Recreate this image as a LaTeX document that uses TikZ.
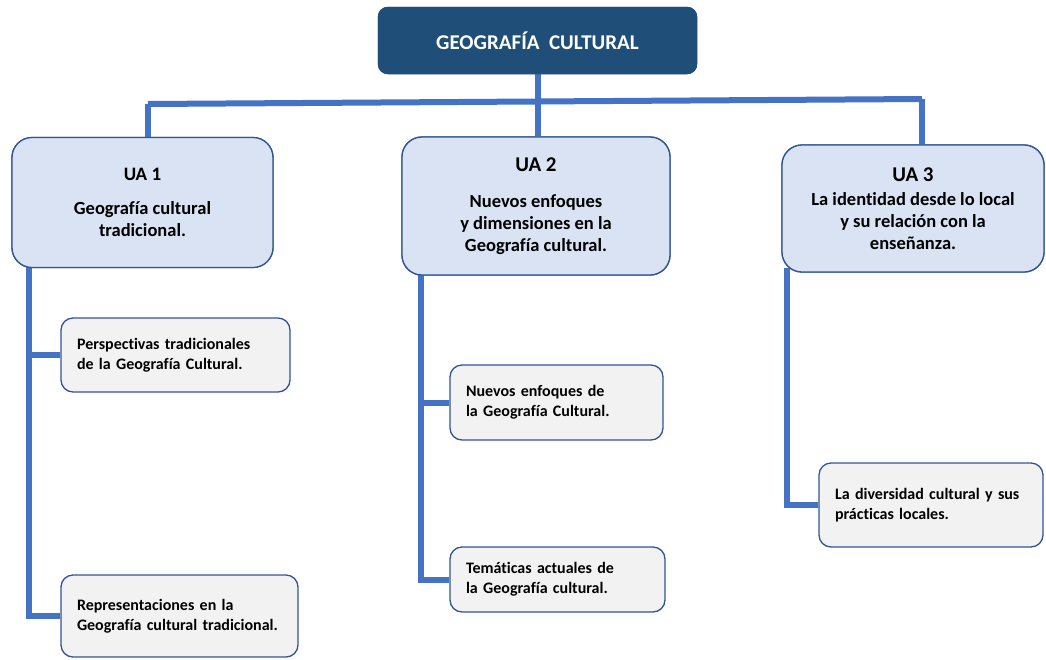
\documentclass[tikz,border=0pt]{standalone}
\usepackage{fontspec}
\setmainfont{Carlito}[Ligatures=NoCommon]
\definecolor{topblue}{HTML}{1F4E79}
\definecolor{linkblue}{HTML}{4472C4}
\definecolor{uafill}{HTML}{DAE3F3}
\definecolor{edgeblue}{HTML}{2F5597}
\definecolor{subfill}{HTML}{F2F2F2}
\begin{document}
\begin{tikzpicture}[x=1pt,y=-1pt,
  titlebox/.style={draw=topblue,fill=topblue,rounded corners=10pt,text=white,font=\bfseries\fontsize{21}{24}\selectfont,inner sep=0pt,align=center},
  uabox/.style={draw=edgeblue,line width=1.3pt,fill=uafill,rounded corners=20pt,font=\bfseries\fontsize{18.5}{22}\selectfont,inner sep=0pt,align=center},
  subbox/.style={draw=edgeblue,line width=1.3pt,fill=subfill,rounded corners=12pt,font=\bfseries\fontsize{16}{20}\selectfont,inner xsep=16pt,inner ysep=0pt,align=left},
  link/.style={draw=linkblue,line width=6pt},
  uaone/.style={uabox,minimum width=261pt,minimum height=130pt},
  uatwo/.style={uabox,minimum width=268pt,minimum height=138pt},
  uathree/.style={uabox,minimum width=262pt,minimum height=127pt},
  topsize/.style={titlebox,minimum width=319pt,minimum height=67pt}]
\useasboundingbox (0,0) rectangle (1046,659);
\coordinate (barL) at (148,104);
\coordinate (barR) at (922,99);
\coordinate (s1) at (29,262);
\coordinate (s2) at (421,270);
\coordinate (s3) at (787,268);
% boxes
\node[topsize] (top) at (537.5,40.5) {GEOGRAFÍA\ \ CULTURAL};
\node[uaone] (ua1) at (142.5,202.5) {{\fontsize{19}{22}\selectfont UA 1}\\[12pt]Geografía cultural\\tradicional.};
\node[uatwo] (ua2) at (536,206) {{\fontsize{21}{24}\selectfont UA 2}\\[14pt]Nuevos enfoques\\y dimensiones en la\\Geografía cultural.};
\node[uathree] (ua3) at (913,208.5) {{\fontsize{21}{24}\selectfont UA 3}\\[2pt]La identidad desde lo local\\y su relación con la\\enseñanza.};
\node[subbox,text width=197pt,minimum height=74pt] (per) at (175.5,355) {Perspectivas tradicionales\\de la Geografía Cultural.};
\node[subbox,text width=205pt,minimum height=82pt] (rep) at (179.5,616) {\raisebox{-6pt}{\parbox{205pt}{Representaciones en la\\Geografía cultural tradicional.}}};
\node[subbox,text width=181pt,minimum height=75pt] (nue) at (556.5,402.5) {Nuevos enfoques de\\la Geografía Cultural.};
\node[subbox,text width=183pt,minimum height=65pt] (tem) at (557.5,579.5) {Temáticas actuales de\\la Geografía cultural.};
\node[subbox,text width=192pt,minimum height=84pt] (div) at (931,505) {La diversidad cultural y sus\\prácticas locales.};
% links
\path[link] (top.south) -- (top.south |- ua2.north);
\path[link] (barL) -- (barR);
\path[link] (barL) -- (barL |- ua1.north);
\path[link] (barR) -- (barR |- ua3.north);
\path[link] (s1) |- (rep.west);
\path[link] (s1 |- per.west) -- (per.west);
\path[link] (s2) |- (tem.west);
\path[link] (s2 |- nue.west) -- (nue.west);
\path[link] (s3) |- (div.west);
% redraw boxes over link ends
\node[topsize] at (top) {GEOGRAFÍA\ \ CULTURAL};
\node[uaone] at (ua1) {{\fontsize{19}{22}\selectfont UA 1}\\[12pt]Geografía cultural\\tradicional.};
\node[uatwo] at (ua2) {{\fontsize{21}{24}\selectfont UA 2}\\[14pt]Nuevos enfoques\\y dimensiones en la\\Geografía cultural.};
\node[uathree] at (ua3) {{\fontsize{21}{24}\selectfont UA 3}\\[2pt]La identidad desde lo local\\y su relación con la\\enseñanza.};
\end{tikzpicture}
\end{document}
